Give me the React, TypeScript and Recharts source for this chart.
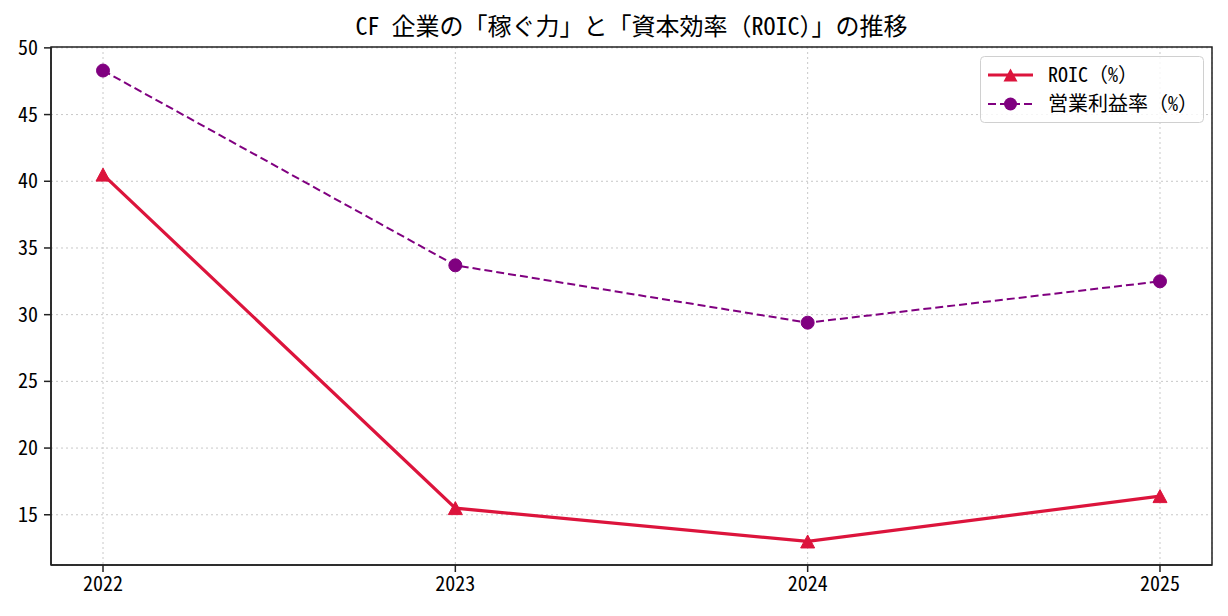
import {
  LineChart,
  Line,
  XAxis,
  YAxis,
  CartesianGrid,
  ReferenceArea,
} from 'recharts';

const years = [2022, 2023, 2024, 2025];
const roic = [40.5, 15.5, 13.0, 16.4];
const opMargin = [48.3, 33.7, 29.4, 32.5];
const yTicks = [15, 20, 25, 30, 35, 40, 45, 50];
const seriesNames = ['ROIC（%）', '営業利益率（%）'];
const title = 'CF 企業の「稼ぐ力」と「資本効率（ROIC）」の推移';

const FONT = "'Noto Sans Mono CJK JP', 'Noto Sans CJK JP', sans-serif";
const RED = '#dc143c';
const PURPLE = '#800080';

const chartData = years.map((year, i) => ({
  year,
  roic: roic[i],
  opMargin: opMargin[i],
}));

// matplotlib-style autoscale: 5% margin on each side
const allValues = [...roic, ...opMargin];
const vMin = Math.min(...allValues);
const vMax = Math.max(...allValues);
const vPad = (vMax - vMin) * 0.05;
const yDomain: [number, number] = [vMin - vPad, vMax + vPad];
const xPad = 0.1476;
const xDomain: [number, number] = [years[0] - xPad, years[years.length - 1] + xPad];

function Triangle(props: any) {
  const { cx, cy, index } = props;
  if (cx == null || cy == null) return <g key={`t-${index}`} />;
  return (
    <path
      key={`t-${index}`}
      d={`M${cx},${cy - 6.5} L${cx + 7},${cy + 6.5} L${cx - 7},${cy + 6.5} Z`}
      fill={RED}
      stroke={RED}
      strokeWidth={1}
    />
  );
}

function Circle(props: any) {
  const { cx, cy, index } = props;
  if (cx == null || cy == null) return <g key={`c-${index}`} />;
  return <circle key={`c-${index}`} cx={cx} cy={cy} r={6.5} fill={PURPLE} stroke={PURPLE} />;
}

function LegendBox() {
  return (
    <svg width={224} height={67} style={{ display: 'block' }}>
      <rect x={0.5} y={0.5} width={223} height={66} rx={4} fill="rgba(255,255,255,0.8)" stroke="#d0d0d0" />
      <line x1={8} y1={19} x2={53} y2={19} stroke={RED} strokeWidth={3} />
      <path d="M30.5,12.5 L37.5,25.5 L23.5,25.5 Z" fill={RED} />
      <text x={68} y={19} dy="0.35em" fontSize={20} fontFamily={FONT} fill="#000">
        {seriesNames[0]}
      </text>
      <line x1={8} y1={48} x2={53} y2={48} stroke={PURPLE} strokeWidth={2} strokeDasharray="8 4" />
      <circle cx={30.5} cy={48} r={6.5} fill={PURPLE} />
      <text x={68} y={48} dy="0.35em" fontSize={20} fontFamily={FONT} fill="#000">
        {seriesNames[1]}
      </text>
    </svg>
  );
}

export default function App() {
  return (
    <div style={{ position: 'absolute', left: 0, top: 0, width: 1228, height: 616, background: '#fff' }}>
      <div
        style={{
          position: 'absolute',
          left: 51,
          width: 1161,
          top: 8,
          textAlign: 'center',
          fontFamily: FONT,
          fontSize: 24,
          lineHeight: '34px',
          color: '#000',
        }}
      >
        {title}
      </div>
      <LineChart width={1228} height={616} data={chartData} margin={{ top: 47, right: 16, bottom: 21, left: 0 }}>
        <CartesianGrid stroke="#c8c8c8" strokeDasharray="2 3" />
        <XAxis
          dataKey="year"
          type="number"
          domain={xDomain}
          ticks={years}
          height={30}
          tickSize={7}
          tickMargin={5}
          tick={{ fontSize: 20, fontFamily: FONT, fill: '#000' }}
          stroke="#222"
          strokeWidth={1.5}
          allowDataOverflow
        />
        <YAxis
          type="number"
          domain={yDomain}
          ticks={yTicks}
          width={51}
          tickSize={7}
          tickMargin={6}
          tick={{ fontSize: 20, fontFamily: FONT, fill: '#000' }}
          stroke="#222"
          strokeWidth={1.5}
          allowDataOverflow
        />
        <ReferenceArea
          x1={xDomain[0]}
          x2={xDomain[1]}
          y1={yDomain[0]}
          y2={yDomain[1]}
          fill="none"
          stroke="#222"
          strokeWidth={1.5}
          ifOverflow="extendDomain"
        />
        <Line
          type="linear"
          dataKey="opMargin"
          name={seriesNames[1]}
          stroke={PURPLE}
          strokeWidth={2}
          strokeDasharray="8 4"
          dot={Circle}
          activeDot={false}
          isAnimationActive={false}
        />
        <Line
          type="linear"
          dataKey="roic"
          name={seriesNames[0]}
          stroke={RED}
          strokeWidth={3.2}
          dot={Triangle}
          activeDot={false}
          isAnimationActive={false}
        />
      </LineChart>
      <div style={{ position: 'absolute', left: 980, top: 56 }}>
        <LegendBox />
      </div>
    </div>
  );
}
